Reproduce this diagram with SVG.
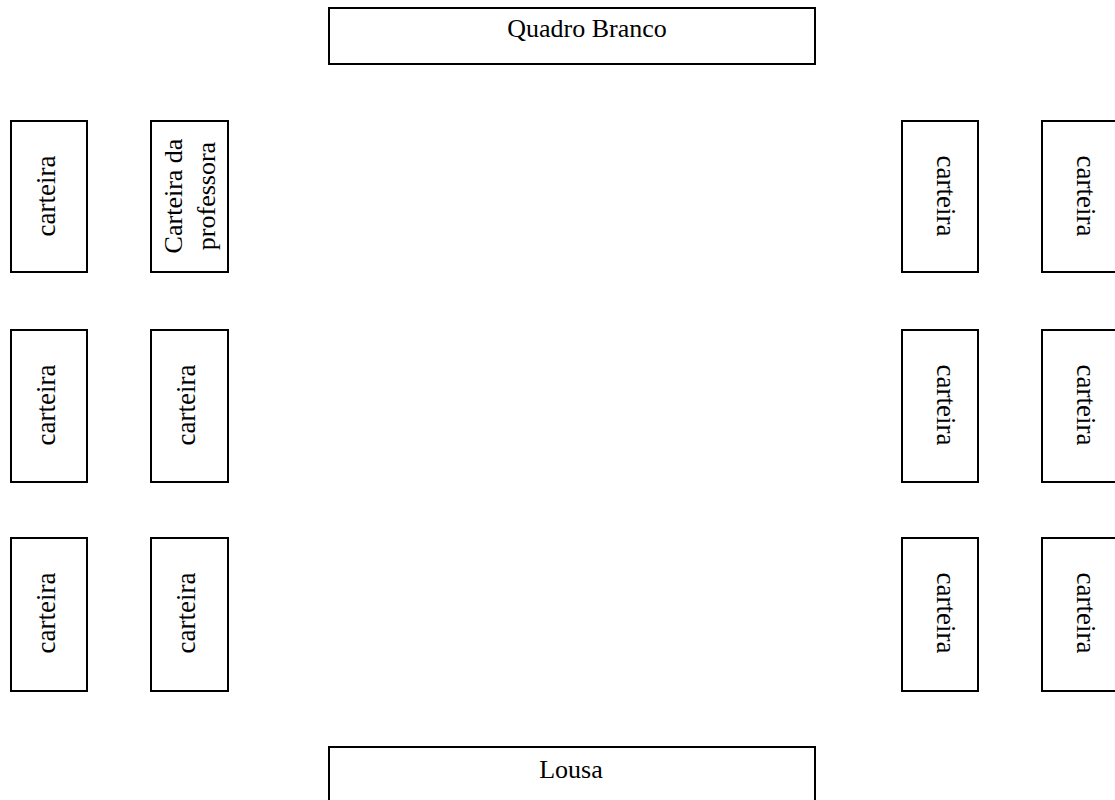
<svg xmlns="http://www.w3.org/2000/svg" width="1115" height="800" viewBox="0 0 1115 800">
<style>
.box{fill:#fff;stroke:#000;stroke-width:2}
.t{font-family:"Liberation Serif","Times New Roman",serif;font-size:26px;fill:#000;text-anchor:middle}
.v{font-size:27px}
</style>
<rect width="1115" height="800" fill="#fff"/>
<g id="quadro"><rect class="box" x="329" y="8" width="486" height="56"/><text class="t" x="587" y="37">Quadro Branco</text></g>
<g id="lousa"><rect class="box" x="329" y="747" width="486" height="60"/><text class="t" x="571" y="778">Lousa</text></g>
<g id="c1"><rect class="box" x="11" y="121" width="76" height="151"/><text class="t v" transform="translate(55,196) rotate(-90)">carteira</text></g>
<g id="prof"><rect class="box" x="151" y="121" width="77" height="151"/><text class="t" transform="translate(182,196) rotate(-90)">Carteira da</text><text class="t" transform="translate(215,196) rotate(-90)">professora</text></g>
<g id="c3"><rect class="box" x="11" y="330" width="76" height="152"/><text class="t v" transform="translate(55,405) rotate(-90)">carteira</text></g>
<g id="c4"><rect class="box" x="151" y="330" width="77" height="152"/><text class="t v" transform="translate(195,405) rotate(-90)">carteira</text></g>
<g id="c5"><rect class="box" x="11" y="538" width="76" height="153"/><text class="t v" transform="translate(55,613) rotate(-90)">carteira</text></g>
<g id="c6"><rect class="box" x="151" y="538" width="77" height="153"/><text class="t v" transform="translate(195,613) rotate(-90)">carteira</text></g>
<g id="c7"><rect class="box" x="902" y="121" width="76" height="151"/><text class="t v" transform="translate(937,196) rotate(90)">carteira</text></g>
<g id="c8"><rect class="box" x="1042" y="121" width="80" height="151"/><text class="t v" transform="translate(1077,196) rotate(90)">carteira</text></g>
<g id="c9"><rect class="box" x="902" y="330" width="76" height="152"/><text class="t v" transform="translate(937,405) rotate(90)">carteira</text></g>
<g id="c10"><rect class="box" x="1042" y="330" width="80" height="152"/><text class="t v" transform="translate(1077,405) rotate(90)">carteira</text></g>
<g id="c11"><rect class="box" x="902" y="538" width="76" height="153"/><text class="t v" transform="translate(937,613) rotate(90)">carteira</text></g>
<g id="c12"><rect class="box" x="1042" y="538" width="80" height="153"/><text class="t v" transform="translate(1077,613) rotate(90)">carteira</text></g>
<g id="connectors"/>
</svg>
